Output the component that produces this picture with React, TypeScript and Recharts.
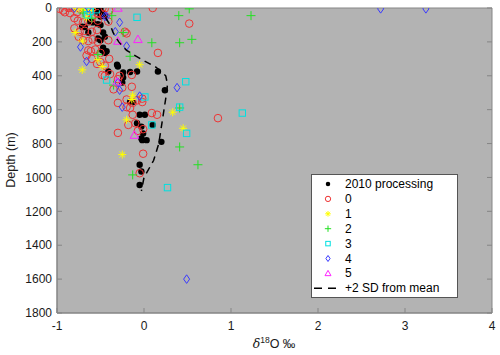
import { ScatterChart, Scatter, XAxis, YAxis, CartesianGrid } from 'recharts';

const FONT = '"Liberation Sans", Arial, Helvetica, sans-serif';

const xTicks = [-1, 0, 1, 2, 3, 4];
const depthTicks = [0, 200, 400, 600, 800, 1000, 1200, 1400, 1600, 1800];

// [d18O, depth]
const processed2010 = [
  [-0.53, 0], [-0.5, 10], [-0.55, 20], [-0.48, 30], [-0.45, 45], [-0.5, 50], [-0.62, 80], [-0.59, 85],
  [-0.53, 95], [-0.5, 100], [-0.71, 110], [-0.68, 112], [-0.64, 145], [-0.47, 145], [-0.45, 170],
  [-0.53, 180], [-0.5, 190], [-0.47, 235], [-0.43, 255], [-0.45, 265], [-0.48, 250], [-0.31, 335],
  [-0.3, 345], [-0.41, 375], [-0.24, 380], [-0.16, 378], [-0.08, 375], [-0.24, 410], [-0.25, 440],
  [0.16, 375], [0.24, 485], [-0.16, 555], [-0.13, 555], [-0.05, 630], [0.01, 630], [-0.08, 680],
  [-0.03, 700], [0.1, 690], [-0.01, 740], [-0.03, 770], [0.03, 780], [-0.02, 780], [0.2, 790],
  [-0.05, 925], [-0.03, 965], [-0.05, 1045],
];

const group0 = [
  [-0.97, 5], [-0.87, 0], [-0.82, 0], [-0.74, 3], [-0.68, 0], [-0.6, 5], [-0.45, 2], [-0.91, 25],
  [-0.85, 30], [-0.77, 25], [-0.66, 35], [-0.53, 30], [-0.47, 35], [0.1, 0], [-0.93, 15], [-0.4, 15],
  [-0.76, 75], [-0.7, 85], [-0.64, 80], [-0.53, 75], [-0.41, 80], [-0.8, 60], [-0.6, 60],
  [-0.74, 140], [-0.68, 135], [-0.6, 140], [-0.54, 130], [-0.22, 140], [-0.2, 150], [-0.8, 120],
  [-0.7, 190], [-0.64, 195], [-0.59, 185], [-0.53, 200], [-0.41, 190], [-0.75, 170],
  [-0.64, 250], [-0.61, 255], [-0.56, 245], [-0.5, 265], [-0.66, 280],
  [-0.54, 330], [-0.5, 320], [-0.45, 340], [-0.6, 300], [-0.4, 300],
  [-0.48, 395], [-0.45, 400], [-0.39, 390], [-0.28, 400], [-0.14, 395], [-0.3, 420],
  [-0.25, 470], [-0.14, 465], [-0.35, 480], [-0.2, 540], [-0.08, 545], [-0.02, 535],
  [-0.3, 560], [-0.2, 585], [-0.13, 560], [-0.02, 555], [-0.13, 630], [0.09, 620], [0.15, 630],
  [-0.16, 590], [-0.1, 680], [-0.18, 690], [-0.3, 737], [-0.07, 725], [-0.01, 715],
  [-0.01, 860], [-0.05, 975], [0.52, 92], [0.16, 265], [0.85, 650],
];

const group1 = [
  [-0.71, 10], [-0.64, 15], [-0.78, 5], [-0.6, 0], [-0.66, 57], [-0.79, 145], [-0.71, 195],
  [-0.53, 305], [-0.71, 365], [-0.05, 335], [-0.48, 345], [0.33, 615], [0.45, 710], [-0.25, 865],
  [-0.2, 660], [-0.13, 515], [-0.14, 540],
];

const group2 = [
  [0.52, 5], [0.4, 45], [1.23, 45], [0.41, 205], [0.55, 185], [0.41, 590], [-0.37, 45],
  [-0.16, 285], [-0.35, 455], [0.41, 820], [0.62, 925], [-0.13, 985], [-0.24, 145], [-0.53, 275],
  [0.09, 205], [-0.7, 30], [-0.6, 60],
];

const group3 = [
  [-0.08, 55], [0.48, 435], [0.41, 585], [1.13, 620], [0.49, 740], [0.27, 1060], [0.01, 525],
  [0.09, 690], [-0.43, 425], [-0.55, 10], [-0.65, 40], [-0.62, 20],
];

const group4 = [
  [2.72, 5], [3.24, 5], [0.49, 1600], [0.38, 470], [-0.28, 85], [-0.33, 140], [-0.2, 225],
  [-0.73, 230], [-0.66, 315], [-0.43, 50], [-0.3, 440], [-0.28, 485], [-0.25, 585], [-0.05, 520],
  [-0.8, 0], [-0.64, 0], [-0.45, 50],
];

const group5 = [[-0.3, 0], [-0.07, 185], [-0.3, 195], [-0.31, 435], [-0.11, 750]];

const sdDepth = [0, 50, 100, 150, 200, 250, 300, 350, 400, 450, 500, 600, 700, 800, 900, 1000, 1080];
const sdValue = [-0.52, -0.45, -0.39, -0.35, -0.29, -0.2, -0.04, 0.14, 0.25, 0.27, 0.26, 0.23, 0.2, 0.17, 0.11, 0.0, -0.03];

const toPoints = (rows: number[][]) => rows.map(([x, depth]) => ({ x, depth }));
const sdPoints = sdDepth.map((depth, i) => ({ x: sdValue[i], depth }));

const SERIES = [
  { label: '2010 processing', kind: 'dot', color: '#000000', rows: processed2010 },
  { label: '0', kind: 'circle', color: '#ee3333', rows: group0 },
  { label: '1', kind: 'star', color: '#ffff00', rows: group1 },
  { label: '2', kind: 'plus', color: '#22e022', rows: group2 },
  { label: '3', kind: 'square', color: '#00e0e0', rows: group3 },
  { label: '4', kind: 'diamond', color: '#3a3aff', rows: group4 },
  { label: '5', kind: 'triangle', color: '#ff22ff', rows: group5 },
];

function Marker({ kind, color, cx, cy, s = 1 }: { kind: string; color: string; cx: number; cy: number; s?: number }) {
  const sw = 1;
  switch (kind) {
    case 'dot':
      return <circle cx={cx} cy={cy} r={3.2 * s} fill={color} />;
    case 'circle':
      return <circle cx={cx} cy={cy} r={3.8 * s} fill="none" stroke={color} strokeWidth={sw} />;
    case 'star': {
      const r = 4 * s;
      const d = r * 0.7;
      return (
        <path
          d={`M${cx - r},${cy}H${cx + r}M${cx},${cy - r}V${cy + r}M${cx - d},${cy - d}L${cx + d},${cy + d}M${cx - d},${cy + d}L${cx + d},${cy - d}`}
          stroke={color}
          strokeWidth={sw}
        />
      );
    }
    case 'plus': {
      const r = 4.5 * s;
      return <path d={`M${cx - r},${cy}H${cx + r}M${cx},${cy - r}V${cy + r}`} stroke={color} strokeWidth={sw} />;
    }
    case 'square': {
      const r = 3.2 * s;
      return <rect x={cx - r} y={cy - r} width={2 * r} height={2 * r} fill="none" stroke={color} strokeWidth={sw} />;
    }
    case 'diamond': {
      const w = 3 * s;
      const h = 4.3 * s;
      return <path d={`M${cx},${cy - h}L${cx + w},${cy}L${cx},${cy + h}L${cx - w},${cy}Z`} fill="none" stroke={color} strokeWidth={sw} />;
    }
    case 'triangle': {
      const r = 4.3 * s;
      return <path d={`M${cx},${cy - r}L${cx + r},${cy + r * 0.75}L${cx - r},${cy + r * 0.75}Z`} fill="none" stroke={color} strokeWidth={sw} />;
    }
    default:
      return <g />;
  }
}

const AXIS_COLOR = '#858585';
const tickStyle = { fill: '#1a1a1a', fontSize: 12, fontFamily: FONT };
const blank = () => '';

export default function App() {
  const legendRows = [...SERIES.map((s) => s.label), '+2 SD from mean'];

  return (
    <div style={{ position: 'absolute', left: 0, top: 0, width: 500, height: 355, background: '#fff' }}>
      <ScatterChart width={500} height={355} margin={{ top: 7, right: 7, left: 0, bottom: 0 }}>
        <CartesianGrid fill="#b3b3b3" stroke="none" horizontal={false} vertical={false} />
        <XAxis
          type="number"
          dataKey="x"
          domain={[-1, 4]}
          ticks={xTicks}
          allowDataOverflow
          height={42}
          tick={tickStyle}
          tickSize={-5}
          tickMargin={13}
          stroke={AXIS_COLOR}
          axisLine={{ stroke: AXIS_COLOR, strokeWidth: 1.5 }}
        />
        <XAxis
          xAxisId="top"
          orientation="top"
          type="number"
          domain={[-1, 4]}
          ticks={xTicks}
          allowDataOverflow
          height={1}
          tickFormatter={blank}
          tickSize={-5}
          stroke={AXIS_COLOR}
        />
        <YAxis
          type="number"
          dataKey="depth"
          domain={[0, 1800]}
          ticks={depthTicks}
          reversed
          allowDataOverflow
          width={57}
          tick={tickStyle}
          tickSize={-5}
          tickMargin={10}
          stroke={AXIS_COLOR}
          axisLine={{ stroke: AXIS_COLOR, strokeWidth: 1.5 }}
        />
        <YAxis
          yAxisId="right"
          orientation="right"
          type="number"
          domain={[0, 1800]}
          ticks={depthTicks}
          reversed
          allowDataOverflow
          width={1}
          tickFormatter={blank}
          tickSize={-5}
          stroke={AXIS_COLOR}
        />
        {SERIES.map((s) => (
          <Scatter
            key={s.label}
            name={s.label}
            data={toPoints(s.rows)}
            fill={s.color}
            isAnimationActive={false}
            shape={(p: any) => <Marker kind={s.kind} color={s.color} cx={p.cx} cy={p.cy} />}
          />
        ))}
        <Scatter
          name="+2 SD from mean"
          data={sdPoints}
          fill="#000"
          line={{ stroke: '#000', strokeWidth: 1.5, strokeDasharray: '7 5' }}
          shape={() => <g />}
          isAnimationActive={false}
        />
      </ScatterChart>

      <svg width={500} height={355} style={{ position: 'absolute', left: 0, top: 0, pointerEvents: 'none' }} fontFamily={FONT}>
        <text transform="translate(15,160) rotate(-90)" textAnchor="middle" fontSize={12.5} fill="#1a1a1a">
          Depth (m)
        </text>
        <text x={274} y={348} textAnchor="middle" fontSize={12.5} fill="#1a1a1a">
          <tspan fontStyle="italic" fontFamily="'DejaVu Serif', serif">δ</tspan>
          <tspan fontSize={8.5} dy={-5}>18</tspan>
          <tspan dy={5}>O ‰</tspan>
        </text>

        <rect x={311.5} y={174.5} width={146} height={123} fill="#fff" stroke="#555" strokeWidth={1} />
        {legendRows.map((label, i) => {
          const y = 184 + i * 14.9;
          const s = SERIES[i];
          return (
            <g key={label}>
              {s ? (
                <Marker kind={s.kind} color={s.color} cx={328} cy={y} s={0.7} />
              ) : (
                <line x1={314} x2={339} y1={y} y2={y} stroke="#000" strokeWidth={1.5} strokeDasharray="8 6" />
              )}
              <text x={345} y={y} dominantBaseline="central" fontSize={12} fill="#000">
                {label}
              </text>
            </g>
          );
        })}
      </svg>
    </div>
  );
}
